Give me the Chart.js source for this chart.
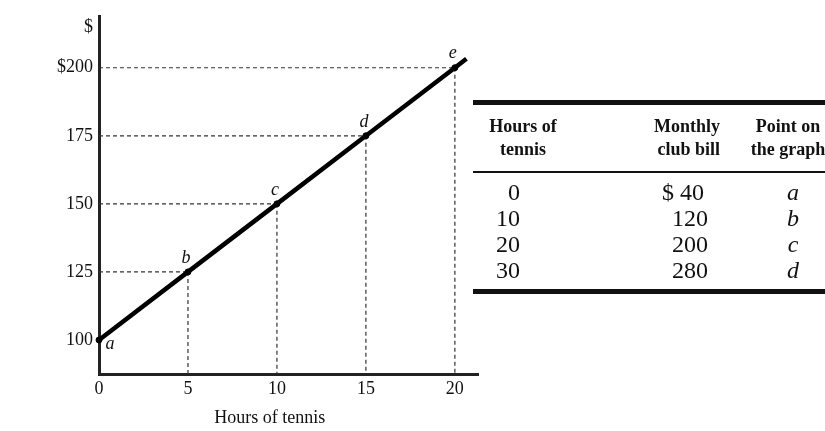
<!DOCTYPE html>
<html>
<head>
<meta charset="utf-8">
<script src="https://cdn.jsdelivr.net/npm/chart.js@4.4.0/dist/chart.umd.min.js"></script>
<style>
  body { margin: 0; background: #fff; }
  #wrap { position: relative; width: 825px; height: 431px; overflow: hidden; font-family: "Liberation Serif", "Times New Roman", serif; color: #111; }
  #chart { position: absolute; left: 0; top: 0; }
  .rule { position: absolute; left: 473px; width: 400px; background: #111; }
  .t { position: absolute; white-space: nowrap; }
  .hd { font-weight: bold; font-size: 18px; line-height: 23px; }
  .row { font-size: 24px; line-height: 26px; }
</style>
</head>
<body>
<div id="wrap">
  <canvas id="chart" width="825" height="431"></canvas>
  <div id="table"></div>
</div>
<script>
// graph values
var hours = [0, 5, 10, 15, 20];
var bill = [100, 125, 150, 175, 200];
var pointNames = ['a', 'b', 'c', 'd', 'e'];
// the line runs a little past point e
var lineEndHours = 20.65;
var lineEndBill = 203.3;

var yTickValues = [100, 125, 150, 175, 200, 215];
var yTickLabels = ['100', '125', '150', '175', '$200', '$'];
var xTickValues = [0, 5, 10, 15, 20];
var xTickLabels = ['0', '5', '10', '15', '20'];

// table values
var tableHours = ['0', '10', '20', '30'];
var tableBill = ['$ 40', '120', '200', '280'];
var tablePoints = ['a', 'b', 'c', 'd'];

var serif = '"Liberation Serif", "Times New Roman", serif';

var linePoints = hours.map(function (h, i) { return { x: h, y: bill[i] }; });
linePoints.push({ x: lineEndHours, y: lineEndBill });
var dots = hours.map(function (h, i) { return { x: h, y: bill[i] }; });

var guides = {
    id: 'guides',
    beforeDatasetsDraw: function (chart) {
        var ctx = chart.ctx, xs = chart.scales.x, ys = chart.scales.y;
        ctx.save();
        ctx.strokeStyle = '#333';
        ctx.lineWidth = 1.2;
        ctx.setLineDash([4, 3]);
        for (var i = 1; i < hours.length; i++) {
            var px = xs.getPixelForValue(hours[i]);
            var py = ys.getPixelForValue(bill[i]);
            ctx.beginPath();
            ctx.moveTo(xs.left, py);
            ctx.lineTo(px, py);
            ctx.moveTo(px, py);
            ctx.lineTo(px, ys.bottom);
            ctx.stroke();
        }
        ctx.restore();
    },
    afterDraw: function (chart) {
        var ctx = chart.ctx, xs = chart.scales.x, ys = chart.scales.y;
        ctx.save();
        ctx.fillStyle = '#111';
        ctx.font = 'italic 18px ' + serif;
        ctx.textAlign = 'center';
        ctx.textBaseline = 'middle';
        for (var i = 0; i < hours.length; i++) {
            var px = xs.getPixelForValue(hours[i]);
            var py = ys.getPixelForValue(bill[i]);
            if (i === 0) {
                ctx.fillText(pointNames[i], px + 11, py + 4);
            } else {
                ctx.fillText(pointNames[i], px - 2, py - 14);
            }
        }
        ctx.font = '18px ' + serif;
        ctx.fillText('Hours of tennis', xs.getPixelForValue(9.6), 418);
        ctx.restore();
    }
};

new Chart(document.getElementById('chart'), {
    type: 'scatter',
    data: {
        datasets: [{
            data: linePoints,
            showLine: true,
            borderColor: '#000',
            borderWidth: 4.5,
            pointRadius: 0,
            clip: false
        }, {
            data: dots,
            showLine: false,
            backgroundColor: '#000',
            borderColor: '#000',
            pointRadius: 3,
            clip: false
        }]
    },
    plugins: [guides],
    options: {
        responsive: false,
        animation: false,
        events: [],
        layout: { padding: { left: 0, right: 347, top: 16, bottom: 0 } },
        plugins: { legend: { display: false }, tooltip: { enabled: false } },
        scales: {
            x: {
                type: 'linear',
                min: 0,
                max: 21.3,
                grid: { display: false },
                border: { display: true, width: 3, color: '#222' },
                afterFit: function (s) { s.height = 57; },
                afterBuildTicks: function (s) {
                    s.ticks = xTickValues.map(function (v) { return { value: v }; });
                },
                ticks: {
                    color: '#111',
                    padding: -4,
                    maxRotation: 0,
                    font: { family: serif, size: 18 },
                    callback: function (v) { return xTickLabels[xTickValues.indexOf(v)]; }
                }
            },
            y: {
                type: 'linear',
                min: 87.5,
                max: 219,
                grid: { display: false },
                border: { display: true, width: 3, color: '#222' },
                afterFit: function (s) { s.width = 99; },
                afterBuildTicks: function (s) {
                    s.ticks = yTickValues.map(function (v) { return { value: v }; });
                },
                ticks: {
                    color: '#111',
                    padding: -2,
                    font: { family: serif, size: 18 },
                    callback: function (v) { return yTickLabels[yTickValues.indexOf(v)]; }
                }
            }
        }
    }
});

// the table to the right of the graph
var table = document.getElementById('table');
function add(cls, text, style) {
    var d = document.createElement('div');
    d.className = cls;
    d.textContent = text;
    d.style.cssText = style;
    table.appendChild(d);
    return d;
}
add('rule', '', 'top:100px;height:5px;');
add('rule', '', 'top:171px;height:2px;');
add('rule', '', 'top:289px;height:5px;');
add('t hd', 'Hours of', 'left:473px;width:100px;text-align:center;top:115px;');
add('t hd', 'tennis', 'left:473px;width:100px;text-align:center;top:138px;');
add('t hd', 'Monthly', 'left:620px;width:100px;text-align:right;top:115px;');
add('t hd', 'club bill', 'left:620px;width:100px;text-align:right;top:138px;');
add('t hd', 'Point on', 'left:738px;width:100px;text-align:center;top:115px;');
add('t hd', 'the graph', 'left:738px;width:100px;text-align:center;top:138px;');
for (var i = 0; i < tableHours.length; i++) {
    var rowTop = 179 + i * 26;
    add('t row', tableHours[i], 'left:420px;width:100px;text-align:right;top:' + rowTop + 'px;');
    // the dollar sign pushes the first bill a little to the left
    var billRight = i === 0 ? 604 : 608;
    add('t row', tableBill[i], 'left:' + billRight + 'px;width:100px;text-align:right;top:' + rowTop + 'px;');
    add('t row', tablePoints[i], 'left:743px;width:100px;text-align:center;font-style:italic;top:' + rowTop + 'px;');
}
</script>
</body>
</html>
